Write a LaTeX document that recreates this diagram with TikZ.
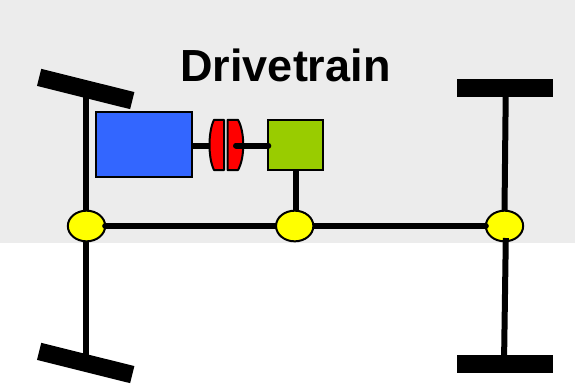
\documentclass[tikz,border=0pt]{standalone}
\usepackage{fontspec}
\setmainfont{Liberation Sans}
\usetikzlibrary{shapes.geometric}
\definecolor{backgray}{HTML}{ECECEC}
\definecolor{engineblue}{HTML}{3366FF}
\definecolor{gearboxgreen}{HTML}{99CC00}
\definecolor{jointyellow}{RGB}{255,255,0}
\definecolor{clutchred}{RGB}{255,0,0}
\tikzset{
  shaft/.style={line width=4.5pt,black},
  shaftend/.style={line width=4.5pt,black,line cap=round},
  wheel/.style={fill=black,draw=none,minimum width=72pt,minimum height=13.2pt,inner sep=0pt,outer sep=0pt},
  joint/.style={ellipse,draw=black,line width=1.5pt,fill=jointyellow,minimum width=28pt,minimum height=23pt,inner sep=0pt,outer sep=0pt},
  unit/.style={draw=black,line width=1.5pt,inner sep=0pt,outer sep=0pt},
  clutch/.style={draw=black,line width=1.5pt,fill=clutchred,line join=round}
}
\begin{document}
\begin{tikzpicture}[x=0.75pt,y=-0.75pt]

            \useasboundingbox (0,0) rectangle (575,387);
            \fill[backgray] (0,0) rectangle (575,243);

            \node[font=\bfseries] (title) at (285.5,65) {\fontsize{33.75pt}{36pt}\selectfont Drivetrain};

            \node[wheel,rotate=-14] (wheelfl) at (85.7,89) {};
            \node[wheel,rotate=-14] (wheelrl) at (85.7,363) {};
            \node[wheel] (wheelfr) at (505,88) {};
            \node[wheel] (wheelrr) at (505,364) {};

            \node[joint] (jointl) at (86.5,226) {};
            \node[joint] (jointr) at (504.5,226) {};

            \coordinate (axlefr) at (505.8,88);
            \coordinate (axlerr) at (504,364);
            \coordinate (axlejr) at (505.8,238);

            \draw[shaft] (wheelfl.center) -- (wheelfl.center |- jointl.north);
            \draw[shaft] (wheelrl.center |- jointl.south) -- (wheelrl.center);
            \draw[shaft] (axlefr) -- (jointr.north);
            \draw[shaft] (axlejr) -- (axlerr);

            \draw[shaftend] (jointl.east) -- (jointr.west);

            \node[joint] (jointm) at (294.7,226) {};

            \node[unit,fill=engineblue,minimum width=71.6pt,minimum height=48.75pt] (engine) at (144,144.8) {};
            \node[unit,fill=gearboxgreen,minimum width=41.25pt,minimum height=37pt] (gearbox) at (295.8,145) {};

            \draw[shaft] (gearbox.south) -- (gearbox.south |- jointm.north);

            \coordinate (clutchl) at (212,145.5);
            \coordinate (clutchr) at (236,145.5);
            \coordinate (gearin) at (gearbox.west |- clutchr);

            \draw[shaft] (engine.east |- clutchl) -- (clutchl);

            \draw[clutch] (224,119.8) -- (214,119.8) .. controls (208,132) and (208,158) .. (214,170) -- (224,170) -- cycle;
            \draw[clutch] (227.5,119.8) -- (238,119.8) .. controls (245,132) and (245,158) .. (238,170) -- (227.5,170) -- cycle;

            \draw[shaftend] (clutchr) -- (gearin);

          \end{tikzpicture}
\end{document}
